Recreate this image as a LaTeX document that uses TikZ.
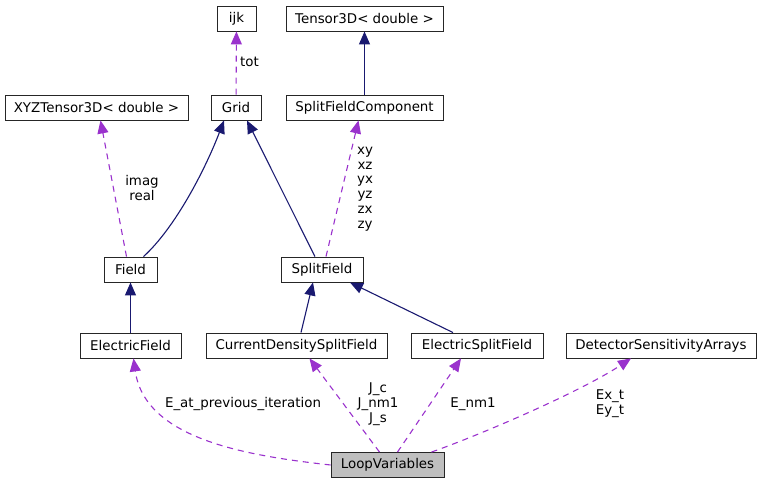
\documentclass[tikz,border=0pt]{standalone}
\usepackage{fontspec}
\setmainfont{DejaVu Sans}
\usetikzlibrary{arrows.meta,positioning}
\definecolor{edgeblue}{HTML}{191970}
\definecolor{edgeorchid}{HTML}{9A32CD}
\definecolor{boxgray}{HTML}{BFBFBF}
\begin{document}
\begin{tikzpicture}[x=1pt,y=-1pt,
  every node/.style={font=\fontsize{13.4}{16}\selectfont},
  cls/.style={draw=black!85,line width=0.9pt,fill=white,minimum height=25,inner sep=0pt},
  inherit/.style={edgeblue,line width=1.1pt,-{Triangle[length=13,width=11]}},
  uses/.style={edgeorchid,line width=1.1pt,dash pattern=on 6pt off 5pt,-{Triangle[length=13,width=11]}},
  lbl/.style={align=center,inner sep=0pt,font=\fontsize{13.4}{14.8}\selectfont}]
  \useasboundingbox (0,0) rectangle (761,484);
  % classes
  \node[cls,minimum width=39] (ijk) at (236.5,18.5) {ijk};
  \node[cls,minimum width=157] (tensor) at (364.5,18.5) {Tensor3D< double >};
  \node[cls,minimum width=183] (xyz) at (96.5,107.5) {XYZTensor3D< double >};
  \node[cls,minimum width=50] (grid) at (236,107.5) {Grid};
  \node[cls,minimum width=157] (sfc) at (364.5,107.5) {SplitFieldComponent};
  \node[cls,minimum width=53] (field) at (130.5,269.5) {Field};
  \node[cls,minimum width=82] (sf) at (322,269.5) {SplitField};
  \node[cls,minimum width=101] (ef) at (130.5,345.5) {ElectricField};
  \node[cls,minimum width=181] (cdsf) at (296.5,345.5) {CurrentDensitySplitField};
  \node[cls,minimum width=132] (esf) at (477,345.5) {ElectricSplitField};
  \node[cls,minimum width=190] (dsa) at (661,345.5) {DetectorSensitivityArrays};
  \node[cls,minimum width=113,fill=boxgray] (lv) at (387.5,465) {LoopVariables};
  % inheritance
  \draw[inherit] (sfc) -- (tensor);
  \draw[inherit] ([xshift=13]field.north) .. controls (175,228) and (205,170) .. ([xshift=-12]grid.south);
  \draw[inherit] ([xshift=-7]sf.north) -- ([xshift=11]grid.south);
  \draw[inherit] (ef) -- (field);
  \draw[inherit] ([xshift=-21]sf.north |- cdsf.north) -- ([xshift=-9]sf.south);
  \draw[inherit] ([xshift=-24]esf.north) -- ([xshift=28]sf.south);
  % usage
  \draw[uses] (grid) -- (ijk);
  \node[lbl,anchor=west] (tot) at (240,62) {tot};
  \draw[uses] ([xshift=-4]field.north) -- ([xshift=4]xyz.south);
  \node[lbl] (imag) at (142,188) {imag\\real};
  \draw[uses] ([xshift=4]sf.north) -- ([xshift=-6]sfc.south);
  \node[lbl] (comps) at (365,189) {xy\\xz\\yx\\yz\\zx\\zy};
  \draw[uses] (lv.west) .. controls (250,456) and (145,440) .. ([xshift=3]ef.south);
  \node[lbl] (eprev) at (243,404) {E\_at\_previous\_iteration};
  \draw[uses] ([xshift=-8]lv.north) -- ([xshift=13]cdsf.south);
  \node[lbl] (jcur) at (378,404) {J\_c\\J\_nm1\\J\_s};
  \draw[uses] ([xshift=10]lv.north) -- ([xshift=-16]esf.south);
  \node[lbl] (enm) at (473,404) {E\_nm1};
  \draw[uses] ([xshift=44]lv.north) .. controls (480,435) and (580,392) .. ([xshift=-30]dsa.south);
  \node[lbl] (ext) at (610,404) {Ex\_t\\Ey\_t};
\end{tikzpicture}
\end{document}
